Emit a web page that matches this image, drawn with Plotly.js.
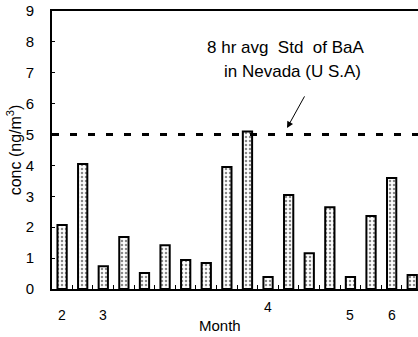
<!DOCTYPE html>
<html>
<head>
<meta charset="utf-8">
<script src="https://cdn.plot.ly/plotly-3.0.1.min.js"></script>
<style>html,body{margin:0;padding:0;background:#fff;}#chart{width:418px;height:337px;}</style>
</head>
<body>
<div id="chart"></div>
<script>
// Data
const sampleIndex = [0,1,2,3,4,5,6,7,8,9,10,11,12,13,14,15,16,17];
const concValues = [2.07, 4.05, 0.74, 1.68, 0.52, 1.42, 0.94, 0.84, 3.95, 5.1, 0.39, 3.04, 1.16, 2.65, 0.39, 2.36, 3.59, 0.45];
const monthLabels = ['2', '3', '4', '5', '6'];
const monthLabelIndex = [0, 2, 10, 14, 16];
const stdLevel = 5;
const stdLabelLine1 = '8 hr avg  Std  of BaA';
const stdLabelLine2 = 'in Nevada (U S.A)';
const yTickVals = [0,1,2,3,4,5,6,7,8,9];

const font = 'Liberation Sans, Arial, sans-serif';
const minorTicks = sampleIndex.slice(0, -1).map(i => i + 0.5);

const bars = {
  type: 'bar',
  x: sampleIndex,
  y: concValues,
  width: 0.45,
  marker: {
    color: '#ffffff',
    line: {color: '#000', width: 2},
    pattern: {shape: '.', fgcolor: '#8a8a8a', bgcolor: '#ffffff', size: 4, solidity: 0.3}
  },
  hoverinfo: 'none'
};

const annotations = monthLabels.map((t, k) => ({
  x: monthLabelIndex[k], xref: 'x', y: 0, yref: 'paper',
  xanchor: 'center', yanchor: 'middle',
  text: t, showarrow: false, yshift: t === '4' ? -18 : -26,
  font: {family: font, size: 14, color: '#000'}
}));
annotations.push({
  x: 0.459, xref: 'paper', y: 0, yref: 'paper', text: 'Month', showarrow: false,
  xanchor: 'center', yanchor: 'middle',
  yshift: -36, font: {family: font, size: 15, color: '#000'}
});
annotations.push({
  x: 0.639, xref: 'paper', y: 0.867, yref: 'paper', text: stdLabelLine1, showarrow: false,
  xanchor: 'center', yanchor: 'middle',
  font: {family: font, size: 17, color: '#000'}
});
annotations.push({
  x: 0.656, xref: 'paper', y: 0.781, yref: 'paper', text: stdLabelLine2, showarrow: false,
  xanchor: 'center', yanchor: 'middle',
  font: {family: font, size: 17, color: '#000'}
});
annotations.push({
  x: 10.92, xref: 'x', y: 5.21, yref: 'y', text: ' ', showarrow: true,
  ax: 21, ay: -38, axref: 'pixel', ayref: 'pixel',
  arrowhead: 2, arrowsize: 1.3, arrowwidth: 1, arrowcolor: '#000'
});

const layout = {
  width: 418, height: 337,
  margin: {l: 52, r: 0, t: 11, b: 48},
  paper_bgcolor: '#fff', plot_bgcolor: '#fff',
  showlegend: false,
  font: {family: font, size: 14, color: '#000'},
  xaxis: {
    range: [-0.49, 17.28], showgrid: false, zeroline: false,
    showline: true, linecolor: '#000', linewidth: 2, mirror: true,
    tickmode: 'array', tickvals: minorTicks, ticktext: minorTicks.map(() => ''),
    ticks: 'inside', ticklen: 4, tickwidth: 1, tickcolor: '#000'
  },
  yaxis: {
    range: [0, 9], showgrid: false, zeroline: false,
    showline: true, linecolor: '#000', linewidth: 2,
    tickmode: 'array', tickvals: yTickVals, ticktext: yTickVals.map(String),
    ticks: 'inside', ticklen: 3, tickwidth: 1, tickcolor: '#000',
    ticklabelstandoff: 13,
    tickfont: {family: font, size: 15, color: '#000'},
    title: {text: 'conc (ng/m<sup>3</sup>)', standoff: 0, font: {family: font, size: 16, color: '#000'}}
  },
  shapes: [{
    type: 'line', xref: 'paper', x0: 0, x1: 1, yref: 'y', y0: stdLevel, y1: stdLevel,
    line: {color: '#000', width: 3, dash: '7px,11px'}
  }],
  annotations: annotations
};

Plotly.newPlot('chart', [bars], layout, {displayModeBar: false, staticPlot: true});
</script>
</body>
</html>
